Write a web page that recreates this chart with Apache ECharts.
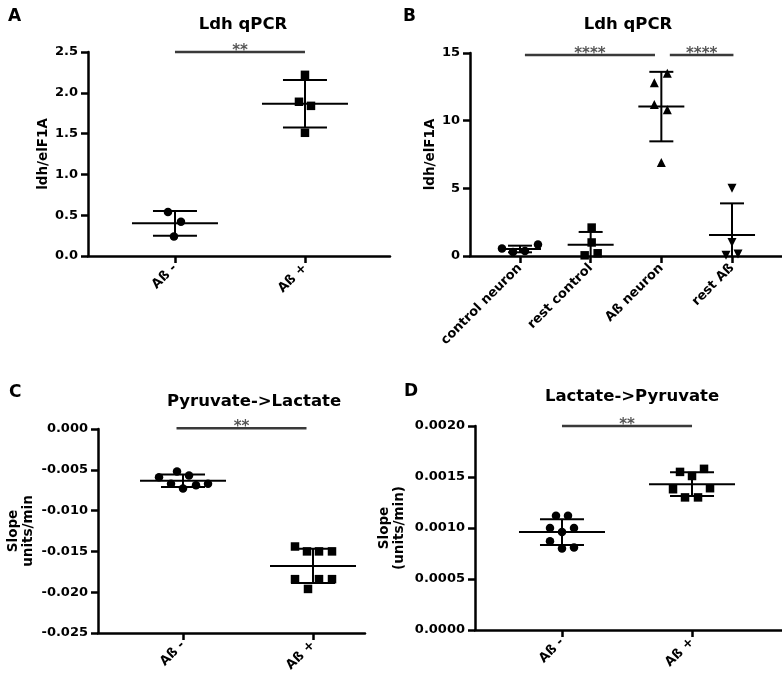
<!DOCTYPE html>
<html><head><meta charset="utf-8">
<script src="https://cdn.jsdelivr.net/npm/echarts@6/dist/echarts.min.js"></script>
<style>html,body{margin:0;padding:0;background:#fff}#c{width:782px;height:678px}</style>
</head><body><div id="c"></div>
<script>
// ---------- Panel A : Ldh qPCR ----------
const catsA = ['Aß -', 'Aß +'];
const aNeg = [0.54, 0.42, 0.24];
const aPos = [2.22, 1.89, 1.84, 1.51];
// ---------- Panel B : Ldh qPCR ----------
const catsB = ['control neuron', 'rest control', 'Aß neuron', 'rest Aß'];
const bControlNeuron = [0.55, 0.30, 0.37, 0.85];
const bRestControl = [2.1, 1.0, 0.05, 0.2];
const bAbNeuron = [13.5, 12.8, 11.2, 10.8, 6.9];
const bRestAb = [5.0, 1.0, 0.05, 0.15];
// ---------- Panel C : Pyruvate->Lactate ----------
const catsC = ['Aß -', 'Aß +'];
const cNeg = [-0.0059, -0.0067, -0.0052, -0.0073, -0.0057, -0.0069, -0.0067];
const cPos = [-0.0144, -0.0150, -0.0150, -0.0150, -0.0184, -0.0184, -0.0184, -0.0196];
// ---------- Panel D : Lactate->Pyruvate ----------
const catsD = ['Aß -', 'Aß +'];
const dNeg = [0.00112, 0.00112, 0.00100, 0.00096, 0.00100, 0.00087, 0.00080, 0.00081];
const dPos = [0.00155, 0.00158, 0.00151, 0.00138, 0.00139, 0.00130, 0.00130];
// significance annotations: [fromCategory, toCategory, level, label]
const sigA = [[1, 2, 2.5, '**']];
const sigB = [[1.07, 2.91, 14.85, '****'], [3.12, 4.02, 14.85, '****']];
const sigC = [[0.95, 1.95, 0.0001, '**']];
const sigD = [[1, 2, 0.002, '**']];

// ---------- layout / style (not data) ----------
const jitter = {
  aNeg: [-7, 6, -1], aPos: [0, -6, 6, 0],
  b0: [-18, -7, 5, 18], b1: [1, 1, -6, 7], b2: [6, -7, -7, 6, 0], b3: [0, 0, -6, 6],
  cNeg: [-24, -12, -6, 0, 6, 13, 25], cPos: [-18, -6, 6, 19, -18, 6, 19, -5],
  dNeg: [-6, 6, -12, 0, 12, -12, 0, 12], dPos: [-12, 12, 0, -19, 18, -7, 6]
};
const FONT = 'DejaVu Sans';
const INV_TRI = 'path://M0,0 L10,0 L5,9 Z';

function mean(a) { return a.reduce((s, v) => s + v, 0) / a.length; }
function sd(a) { const m = mean(a); return Math.sqrt(a.reduce((s, v) => s + (v - m) * (v - m), 0) / (a.length - 1)); }

const chart = echarts.init(document.getElementById('c'), null, { renderer: 'canvas' });

const grids = [
  { left: 88, top: 52, width: 302, height: 204 },
  { left: 470, top: 53, width: 312, height: 203 },
  { left: 98, top: 429, width: 267, height: 204 },
  { left: 475, top: 426, width: 307, height: 204 }
];
const xRanges = [[0.331, 2.654], [0.293, 4.707], [0.346, 2.40], [0.331, 2.692]];
const cats = [catsA, catsB, catsC, catsD];
const yDefs = [
  { min: 0, max: 2.5, interval: 0.5, dec: 1, name: 'ldh/elF1A', gap: 36 },
  { min: 0, max: 15, interval: 5, dec: 0, name: 'ldh/elF1A', gap: 28 },
  { min: -0.025, max: 0, interval: 0.005, dec: 3, name: 'Slope\nunits/min', gap: 62 },
  { min: 0, max: 0.002, interval: 0.0005, dec: 4, name: 'Slope\n(units/min)', gap: 68 }
];

const axisLine = { show: true, onZero: false, lineStyle: { color: '#000', width: 2.5 } };
const axisTick = { show: true, length: 7, lineStyle: { color: '#000', width: 2.5 } };

const xAxis = cats.map((c, i) => ({
  type: 'value', gridIndex: i, min: xRanges[i][0], max: xRanges[i][1],
  axisLine: axisLine,
  axisTick: Object.assign({}, axisTick, { customValues: c.map((_, k) => k + 1) }),
  axisLabel: {
    customValues: c.map((_, k) => k + 1),
    formatter: v => c[Math.round(v) - 1] || '',
    rotate: 45, margin: 10, color: '#000', fontFamily: FONT, fontWeight: 'bold', fontSize: 13
  },
  splitLine: { show: false }
}));

const yAxis = yDefs.map((d, i) => ({
  type: 'value', gridIndex: i, min: d.min, max: d.max, interval: d.interval,
  axisLine: axisLine, axisTick: axisTick,
  axisLabel: { formatter: v => v.toFixed(d.dec), margin: 10, color: '#000', fontFamily: FONT, fontWeight: 'bold', fontSize: 13 },
  splitLine: { show: false },
  name: d.name, nameLocation: 'middle', nameGap: d.gap,
  nameTextStyle: { color: '#000', fontFamily: FONT, fontWeight: 'bold', fontSize: 13.5, lineHeight: 15 }
}));

const series = [];
function addGroup(gi, catIdx, values, jit, symbol, symbolSize, half, capHalf) {
  series.push({
    type: 'scatter', xAxisIndex: gi, yAxisIndex: gi, clip: false, z: 3,
    symbol: symbol, symbolSize: symbolSize,
    itemStyle: { color: '#000', opacity: 1 },
    data: values.map((v, k) => ({ value: [catIdx, v], symbolOffset: [jit[k], 0] }))
  });
  const yMin = yDefs[gi].min;
  series.push({
    type: 'custom', xAxisIndex: gi, yAxisIndex: gi, clip: false, z: 2,
    data: [[catIdx, mean(values), sd(values)]],
    renderItem: function (params, api) {
      const x = api.value(0), m = api.value(1), s = api.value(2);
      const pm = api.coord([x, m]);
      const hi = m + s, lo = m - s;
      const pHi = api.coord([x, hi]);
      const pLo = api.coord([x, Math.max(lo, yMin)]);
      const st = { stroke: '#000', lineWidth: 2 };
      const ch = [
        { type: 'line', shape: { x1: pm[0] - half, y1: pm[1], x2: pm[0] + half, y2: pm[1] }, style: st },
        { type: 'line', shape: { x1: pm[0], y1: pHi[1], x2: pm[0], y2: pLo[1] }, style: st },
        { type: 'line', shape: { x1: pm[0] - capHalf, y1: pHi[1], x2: pm[0] + capHalf, y2: pHi[1] }, style: st }
      ];
      if (lo >= yMin) ch.push({ type: 'line', shape: { x1: pm[0] - capHalf, y1: pLo[1], x2: pm[0] + capHalf, y2: pLo[1] }, style: st });
      return { type: 'group', children: ch };
    }
  });
}
function addSig(gi, sigs) {
  series.push({
    type: 'custom', xAxisIndex: gi, yAxisIndex: gi, clip: false, z: 4,
    data: sigs.map(s => [s[0], s[1], s[2]]),
    renderItem: function (params, api) {
      const p1 = api.coord([api.value(0), api.value(2)]);
      const p2 = api.coord([api.value(1), api.value(2)]);
      const label = sigs[params.dataIndex][3];
      return {
        type: 'group', children: [
          { type: 'line', shape: { x1: p1[0], y1: p1[1], x2: p2[0], y2: p2[1] }, style: { stroke: '#3a3a3a', lineWidth: 2.5 } },
          { type: 'text', style: { text: label, x: (p1[0] + p2[0]) / 2, y: p1[1] - 1, align: 'center', verticalAlign: 'middle', fontSize: 15, fontFamily: FONT, fontWeight: 'bold', fill: '#555' } }
        ]
      };
    }
  });
}

addGroup(0, 1, aNeg, jitter.aNeg, 'circle', 8.5, 43, 22);
addGroup(0, 2, aPos, jitter.aPos, 'rect', 8.5, 43, 22);
addSig(0, sigA);

addGroup(1, 1, bControlNeuron, jitter.b0, 'circle', 8.5, 21, 12);
addGroup(1, 2, bRestControl, jitter.b1, 'rect', 8.5, 23, 12);
addGroup(1, 3, bAbNeuron, jitter.b2, 'triangle', 9, 23, 12);
addGroup(1, 4, bRestAb, jitter.b3, INV_TRI, 9, 23, 12);
addSig(1, sigB);

addGroup(2, 1, cNeg, jitter.cNeg, 'circle', 8.5, 43, 22);
addGroup(2, 2, cPos, jitter.cPos, 'rect', 8.5, 43, 22);
addSig(2, sigC);

addGroup(3, 1, dNeg, jitter.dNeg, 'circle', 8.5, 43, 22);
addGroup(3, 2, dPos, jitter.dPos, 'rect', 8.5, 43, 22);
addSig(3, sigD);

const tStyle = { color: '#000', fontFamily: FONT, fontWeight: 'bold', fontSize: 16.5 };
const lStyle = { color: '#000', fontFamily: FONT, fontWeight: 'bold', fontSize: 17 };
chart.setOption({
  animation: false,
  backgroundColor: '#fff',
  title: [
    { text: 'Ldh qPCR', left: 238, top: 11, textAlign: 'center', textStyle: tStyle },
    { text: 'Ldh qPCR', left: 623, top: 11, textAlign: 'center', textStyle: tStyle },
    { text: 'Pyruvate->Lactate', left: 249, top: 388, textAlign: 'center', textStyle: tStyle },
    { text: 'Lactate->Pyruvate', left: 627, top: 383, textAlign: 'center', textStyle: tStyle },
    { text: 'A', left: 3, top: 3, textStyle: lStyle },
    { text: 'B', left: 398, top: 3, textStyle: lStyle },
    { text: 'C', left: 4, top: 379, textStyle: lStyle },
    { text: 'D', left: 399, top: 378, textStyle: lStyle }
  ],
  grid: grids,
  xAxis: xAxis,
  yAxis: yAxis,
  series: series
});
</script></body></html>
